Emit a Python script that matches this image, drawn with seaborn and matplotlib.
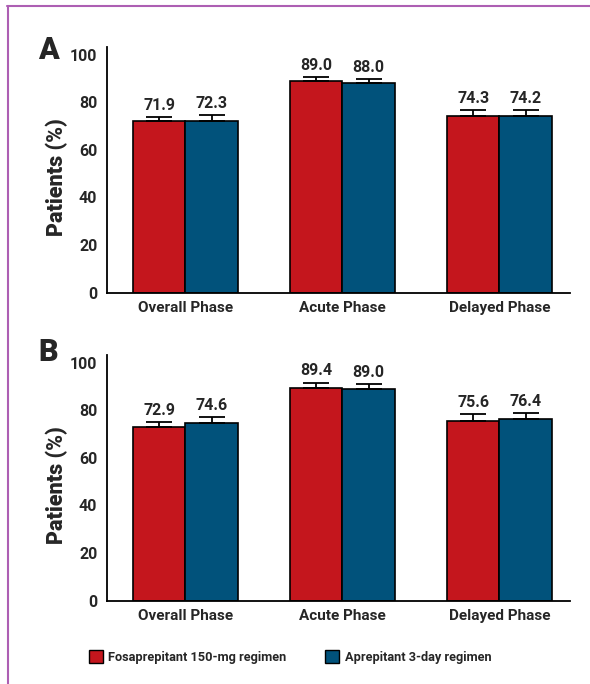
import pandas as pd
import numpy as np
import matplotlib.pyplot as plt
import matplotlib.lines as mlines
import seaborn as sn

# data
phases = ['Overall Phase', 'Acute Phase', 'Delayed Phase']
regimens = ['Fosaprepitant 150-mg regimen', 'Aprepitant 3-day regimen']

a_fosa = [71.9, 89.0, 74.3]
a_apre = [72.3, 88.0, 74.2]
a_fosa_err = [2.0, 1.4, 2.3]
a_apre_err = [2.4, 1.6, 2.4]

b_fosa = [72.9, 89.4, 75.6]
b_apre = [74.6, 89.0, 76.4]
b_fosa_err = [2.1, 2.2, 2.9]
b_apre_err = [2.4, 2.1, 2.4]

yticks = [0, 20, 40, 60, 80, 100]

RED = '#c4161d'
BLUE = '#01527b'
FRAME = '#ad5fb3'

sn.set_style('white')
plt.rcParams['font.family'] = ['Roboto', 'DejaVu Sans']


def make_df(fosa, apre):
    return pd.DataFrame({
        'phase': phases * 2,
        'regimen': [regimens[0]] * 3 + [regimens[1]] * 3,
        'value': fosa + apre,
    })


def draw_panel(ax, fosa, apre, fosa_err, apre_err):
    df = make_df(fosa, apre)
    sn.barplot(data=df, x='phase', y='value', hue='regimen', order=phases,
               hue_order=regimens, palette=[RED, BLUE], width=0.667,
               saturation=1, edgecolor='black', linewidth=1.2,
               errorbar=None, ax=ax, legend=False)

    errs = fosa_err + apre_err
    vals = fosa + apre
    for p, v, e in zip(ax.patches, vals, errs):
        xc = p.get_x() + p.get_width() / 2
        ax.errorbar(xc, v, yerr=[[0], [e]], color='black', elinewidth=1.3,
                    capsize=9.5, capthick=1.3, fmt='none', zorder=1)
        ax.annotate(f'{v:.1f}', (xc, v + e), xytext=(0, 3),
                    textcoords='offset points', ha='center', va='bottom',
                    fontsize=11.5, fontweight='bold')

    ax.set_xlim(-0.5, 2.45)
    ax.set_ylim(0, 103.3)
    ax.set_yticks(yticks)
    ax.set_xticks([0.5, 1.5], minor=True)
    ax.tick_params(axis='x', which='major', length=0, pad=6, labelsize=11)
    ax.tick_params(axis='x', which='minor', length=5, width=1.3,
                   direction='out', color='black')
    ax.tick_params(axis='y', length=5, width=1.3, direction='out',
                   color='black', labelsize=11.5, pad=2)
    for lab in ax.get_xticklabels() + ax.get_yticklabels():
        lab.set_fontweight('bold')
    sn.despine(ax=ax)
    for s in ['left', 'bottom']:
        ax.spines[s].set_linewidth(1.3)
        ax.spines[s].set_color('black')
    ax.set_xlabel('')
    ax.set_ylabel('Patients (%)', fontsize=15.5, fontweight='black')
    ax.yaxis.set_label_coords(-0.084, 0.47)


fig = plt.figure(figsize=(5.9, 6.84), dpi=100)

ax_a = fig.add_axes([107 / 590, 1 - 292.7 / 684, 463 / 590, 246 / 684])
draw_panel(ax_a, a_fosa, a_apre, a_fosa_err, a_apre_err)

ax_b = fig.add_axes([107 / 590, 1 - 600.7 / 684, 463 / 590, 246 / 684])
draw_panel(ax_b, b_fosa, b_apre, b_fosa_err, b_apre_err)

fig.text(48 / 590, 1 - 50 / 684, 'A', ha='center', va='center',
         fontsize=22, fontweight='black')
fig.text(48 / 590, 1 - 352 / 684, 'B', ha='center', va='center',
         fontsize=22, fontweight='black')

handles = [plt.Rectangle((0, 0), 1, 1, facecolor=c, edgecolor='black',
                         linewidth=1.0) for c in [RED, BLUE]]
leg = fig.legend(handles, regimens, loc='center', ncol=2,
                 bbox_to_anchor=(290 / 590, 1 - 657 / 684), frameon=False,
                 prop={'weight': 'bold', 'size': 9.2},
                 handlelength=1.1, handleheight=1.1, handletextpad=0.45,
                 columnspacing=3.0)

# outer frame
fig.add_artist(mlines.Line2D([7 / 590, 1], [1 - 6 / 684, 1 - 6 / 684],
                             color=FRAME, linewidth=1.5,
                             transform=fig.transFigure))
fig.add_artist(mlines.Line2D([8 / 590, 8 / 590], [0, 1 - 6 / 684],
                             color=FRAME, linewidth=1.5,
                             transform=fig.transFigure))

plt.savefig('out.png', dpi=100)
